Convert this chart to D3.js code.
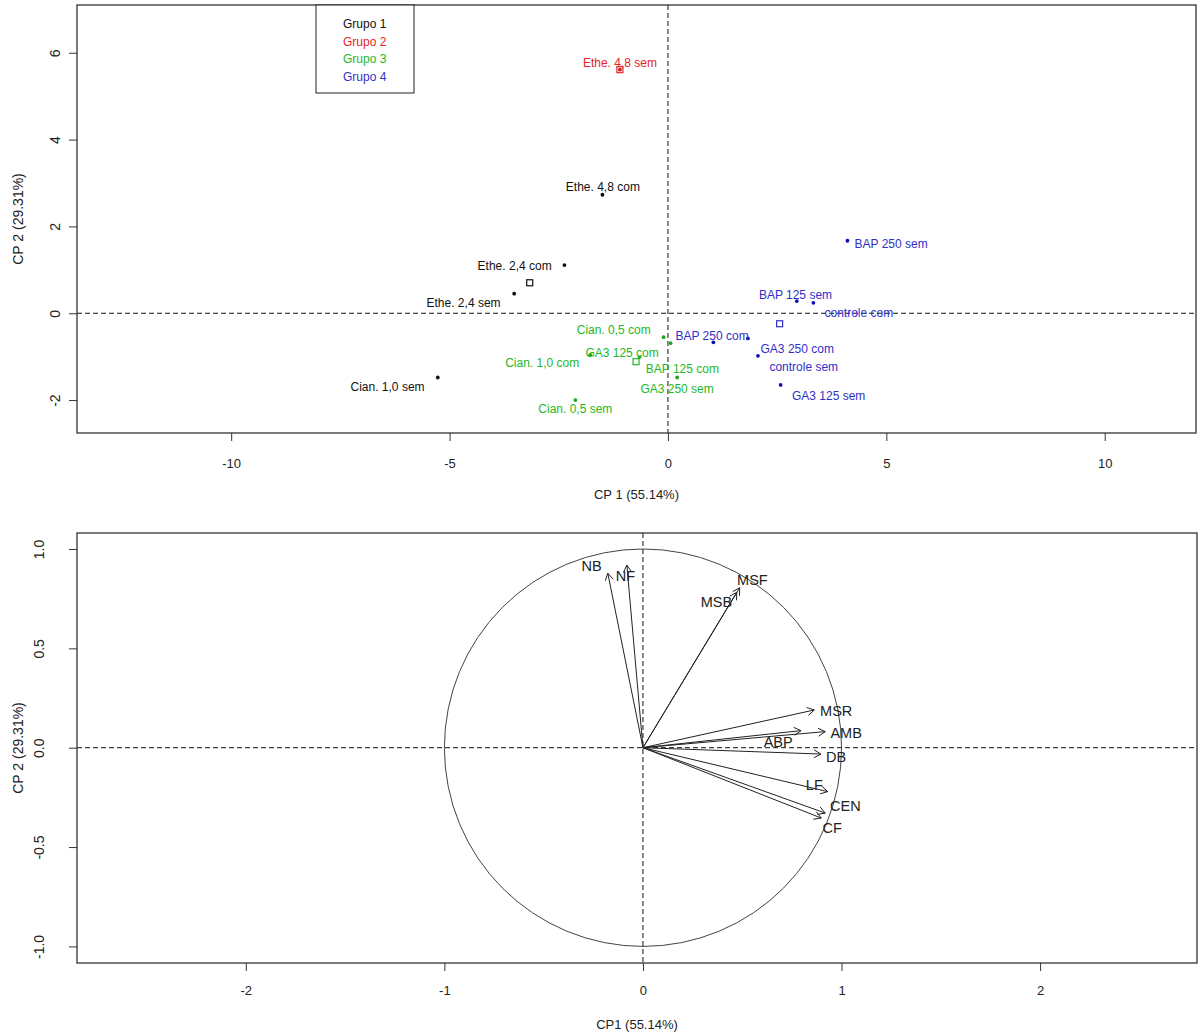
<!DOCTYPE html>
<html>
<head>
<meta charset="utf-8">
<script src="https://cdn.jsdelivr.net/npm/d3@7"></script>
<style>
  body { margin: 0; background: #fff; }
  svg { display: block; font-family: 'Liberation Sans', Arial, sans-serif; }
</style>
</head>
<body>
<svg id="chart" width="1201" height="1034"></svg>
<script>
// ---- scores of the treatments (CP1, CP2) ----
const treatments = ['Ethe. 4,8 com', 'Ethe. 2,4 com', 'Ethe. 2,4 sem', 'Cian. 1,0 sem',
  'Ethe. 4,8 sem',
  'Cian. 0,5 com', 'BAP 125 com', 'Cian. 1,0 com', 'GA3 125 com', 'GA3 250 sem', 'Cian. 0,5 sem',
  'BAP 250 sem', 'BAP 125 sem', 'controle com', 'controle sem', 'BAP 250 com', 'GA3 250 com', 'GA3 125 sem'];
const groups = [1, 1, 1, 1, 2, 3, 3, 3, 3, 3, 3, 4, 4, 4, 4, 4, 4, 4];
const scoreCp1 = [-1.50, -2.37, -3.52, -5.27, -1.10, -0.10, 0.06, -1.78, -0.65, 0.21, -2.12, 4.11, 2.95, 3.33, 1.83, 1.04, 2.06, 2.58];
const scoreCp2 = [2.73, 1.11, 0.45, -1.48, 5.61, -0.55, -0.69, -0.96, -1.01, -1.48, -2.00, 1.67, 0.28, 0.24, -0.58, -0.67, -0.98, -1.65];
// where each text label was put (data units)
const labelCp1 = [-1.49, -3.51, -4.68, -6.42, -1.10, -1.24, 0.33, -2.88, -1.05, 0.21, -2.12, 5.11, 2.92, 4.37, 3.11, 1.01, 2.96, 3.68];
const labelCp2 = [2.92, 1.10, 0.23, -1.69, 5.77, -0.39, -1.27, -1.15, -0.92, -1.73, -2.21, 1.61, 0.42, 0.00, -1.23, -0.52, -0.82, -1.90];
const groupNames = ['Grupo 1', 'Grupo 2', 'Grupo 3', 'Grupo 4'];
const groupColors = ['#111111', '#e52525', '#25b825', '#3030c8'];

// ---- correlations of the variables with CP1, CP2 ----
const variables = ['NB', 'NF', 'MSF', 'MSB', 'MSR', 'AMB', 'ABP', 'DB', 'LF', 'CEN', 'CF'];
const loadCp1 = [-0.177, -0.081, 0.487, 0.472, 0.863, 0.918, 0.796, 0.896, 0.930, 0.918, 0.898];
const loadCp2 = [0.878, 0.919, 0.805, 0.782, 0.190, 0.081, 0.086, -0.032, -0.221, -0.329, -0.354];
const varLabelCp1 = [-0.259, -0.088, 0.551, 0.370, 0.973, 1.023, 0.681, 0.973, 0.863, 1.019, 0.953];
const varLabelCp2 = [0.915, 0.864, 0.844, 0.733, 0.185, 0.074, 0.029, -0.047, -0.188, -0.293, -0.404];

// ---- ticks and axis titles ----
const scoreXTicks = [-10, -5, 0, 5, 10];
const scoreYTicks = [-2, 0, 2, 4, 6];
const loadXTicks = [-2, -1, 0, 1, 2];
const loadYTicks = [-1, -0.5, 0, 0.5, 1];
const xTitles = ['CP 1 (55.14%)', 'CP1 (55.14%)'];
const yTitle = 'CP 2 (29.31%)';

const svg = d3.select('#chart');
svg.append('rect').attr('width', 1201).attr('height', 1034).attr('fill', '#fff');

/**
 * Draws box, axes, titles and dashed zero lines for one panel
 */
function drawFrame(box, x, y, opts) {
  const g = svg.append('g');

  // x axis
  const xa = g.append('g')
    .attr('transform', `translate(0, ${box.bottom})`)
    .call(d3.axisBottom(x).tickValues(opts.xTicks).tickSize(8).tickFormat(opts.xFmt));
  xa.select('.domain').remove();
  xa.selectAll('line').attr('stroke', '#333');
  xa.selectAll('text')
    .attr('y', opts.xLabelOffset).attr('dy', '0.35em')
    .style('font-size', '13px').attr('fill', '#222');

  // y axis, labels parallel to the axis
  const ya = g.append('g')
    .attr('transform', `translate(${box.left}, 0)`)
    .call(d3.axisLeft(y).tickValues(opts.yTicks).tickSize(8).tickFormat(opts.yFmt));
  ya.select('.domain').remove();
  ya.selectAll('line').attr('stroke', '#333');
  ya.selectAll('text')
    .attr('transform', 'rotate(-90)')
    .attr('x', 0).attr('y', -opts.yLabelOffset).attr('dy', '0.35em')
    .attr('text-anchor', 'middle')
    .style('font-size', '14px').attr('fill', '#222');

  // dashed lines at zero
  g.append('line')
    .attr('x1', box.left).attr('x2', box.right)
    .attr('y1', y(0)).attr('y2', y(0))
    .attr('stroke', '#111').attr('stroke-dasharray', '5,3');
  g.append('line')
    .attr('x1', x(0)).attr('x2', x(0))
    .attr('y1', box.top).attr('y2', box.bottom)
    .attr('stroke', '#111').attr('stroke-dasharray', '5,3');

  // box
  g.append('rect')
    .attr('x', box.left).attr('y', box.top)
    .attr('width', box.right - box.left).attr('height', box.bottom - box.top)
    .attr('fill', 'none').attr('stroke', '#333').attr('stroke-width', 1.3);

  // titles
  g.append('text')
    .attr('x', (box.left + box.right) / 2).attr('y', box.bottom + 61)
    .attr('dy', '0.35em').attr('text-anchor', 'middle')
    .style('font-size', '13px').attr('fill', '#222')
    .text(opts.xTitle);
  g.append('text')
    .attr('transform', `translate(18, ${(box.top + box.bottom) / 2}) rotate(-90)`)
    .attr('dy', '0.35em').attr('text-anchor', 'middle')
    .style('font-size', '14px').attr('fill', '#222')
    .text(yTitle);
}

// ================= top panel: scores =================
const topBox = { left: 77, right: 1196, top: 5, bottom: 433 };
const xTop = d3.scaleLinear().domain([-13.53, 12.09]).range([topBox.left, topBox.right]);
const yTop = d3.scaleLinear().domain([-2.758, 7.10]).range([topBox.bottom, topBox.top]);

drawFrame(topBox, xTop, yTop, {
  xTicks: scoreXTicks, yTicks: scoreYTicks,
  xFmt: d => String(d), yFmt: d => String(d),
  xTitle: xTitles[0], yLabelOffset: 22, xLabelOffset: 30
});

const scores = treatments.map((t, i) => ({
  name: t, group: groups[i], x: scoreCp1[i], y: scoreCp2[i], lx: labelCp1[i], ly: labelCp2[i]
}));

// group centroids (open squares)
const centroids = d3.groups(scores, d => d.group).map(([grp, pts]) => ({
  group: grp, x: d3.mean(pts, p => p.x), y: d3.mean(pts, p => p.y)
}));

const pg = svg.append('g');
pg.selectAll('rect.centroid')
  .data(centroids)
  .join('rect')
  .attr('class', 'centroid')
  .attr('x', d => xTop(d.x) - 3).attr('y', d => yTop(d.y) - 3)
  .attr('width', 6).attr('height', 6)
  .attr('fill', 'none')
  .attr('stroke', d => groupColors[d.group - 1]).attr('stroke-width', 1.2);

pg.selectAll('circle')
  .data(scores)
  .join('circle')
  .attr('cx', d => xTop(d.x)).attr('cy', d => yTop(d.y))
  .attr('r', 1.9)
  .attr('fill', d => d.group === 4 ? '#1010b0' : d3.color(groupColors[d.group - 1]).darker(0.3));

pg.selectAll('text')
  .data(scores)
  .join('text')
  .attr('x', d => xTop(d.lx)).attr('y', d => yTop(d.ly))
  .attr('dy', '0.35em').attr('text-anchor', 'middle')
  .style('font-size', '12px')
  .attr('fill', d => groupColors[d.group - 1])
  .text(d => d.name);

// legend
const lg = svg.append('g');
lg.append('rect')
  .attr('x', 316).attr('y', 5).attr('width', 98).attr('height', 88)
  .attr('fill', '#fff').attr('stroke', '#222');
lg.selectAll('text')
  .data(groupNames)
  .join('text')
  .attr('x', 343).attr('y', (d, i) => 24 + i * 17.5)
  .attr('dy', '0.35em')
  .style('font-size', '12px')
  .attr('fill', (d, i) => groupColors[i])
  .text(d => d);

// ================= bottom panel: correlation circle =================
const botBox = { left: 77, right: 1197, top: 533, bottom: 963 };
const xBot = d3.scaleLinear().domain([-2.85, 2.79]).range([botBox.left, botBox.right]);
const yBot = d3.scaleLinear().domain([-1.0835, 1.0805]).range([botBox.bottom, botBox.top]);

drawFrame(botBox, xBot, yBot, {
  xTicks: loadXTicks, yTicks: loadYTicks,
  xFmt: d => String(d), yFmt: d => d.toFixed(1),
  xTitle: xTitles[1], yLabelOffset: 38, xLabelOffset: 27
});

const cg = svg.append('g');
cg.append('ellipse')
  .attr('cx', xBot(0)).attr('cy', yBot(0))
  .attr('rx', xBot(1) - xBot(0)).attr('ry', yBot(0) - yBot(1))
  .attr('fill', 'none').attr('stroke', '#444');

const loadings = variables.map((v, i) => ({
  name: v, x: loadCp1[i], y: loadCp2[i], lx: varLabelCp1[i], ly: varLabelCp2[i]
}));

// arrow with open head
function arrowPath(d) {
  const x0 = xBot(0), y0 = yBot(0), x1 = xBot(d.x), y1 = yBot(d.y);
  const a = Math.atan2(y1 - y0, x1 - x0);
  const len = 8, spread = Math.PI / 6;
  const hx1 = x1 - len * Math.cos(a - spread), hy1 = y1 - len * Math.sin(a - spread);
  const hx2 = x1 - len * Math.cos(a + spread), hy2 = y1 - len * Math.sin(a + spread);
  return `M${x0},${y0}L${x1},${y1}M${hx1},${hy1}L${x1},${y1}L${hx2},${hy2}`;
}

cg.selectAll('path')
  .data(loadings)
  .join('path')
  .attr('d', arrowPath)
  .attr('fill', 'none').attr('stroke', '#222').attr('stroke-width', 1);

cg.selectAll('text')
  .data(loadings)
  .join('text')
  .attr('x', d => xBot(d.lx)).attr('y', d => yBot(d.ly))
  .attr('dy', '0.35em').attr('text-anchor', 'middle')
  .style('font-size', '14.5px').attr('fill', '#222')
  .text(d => d.name);
</script>
</body>
</html>
